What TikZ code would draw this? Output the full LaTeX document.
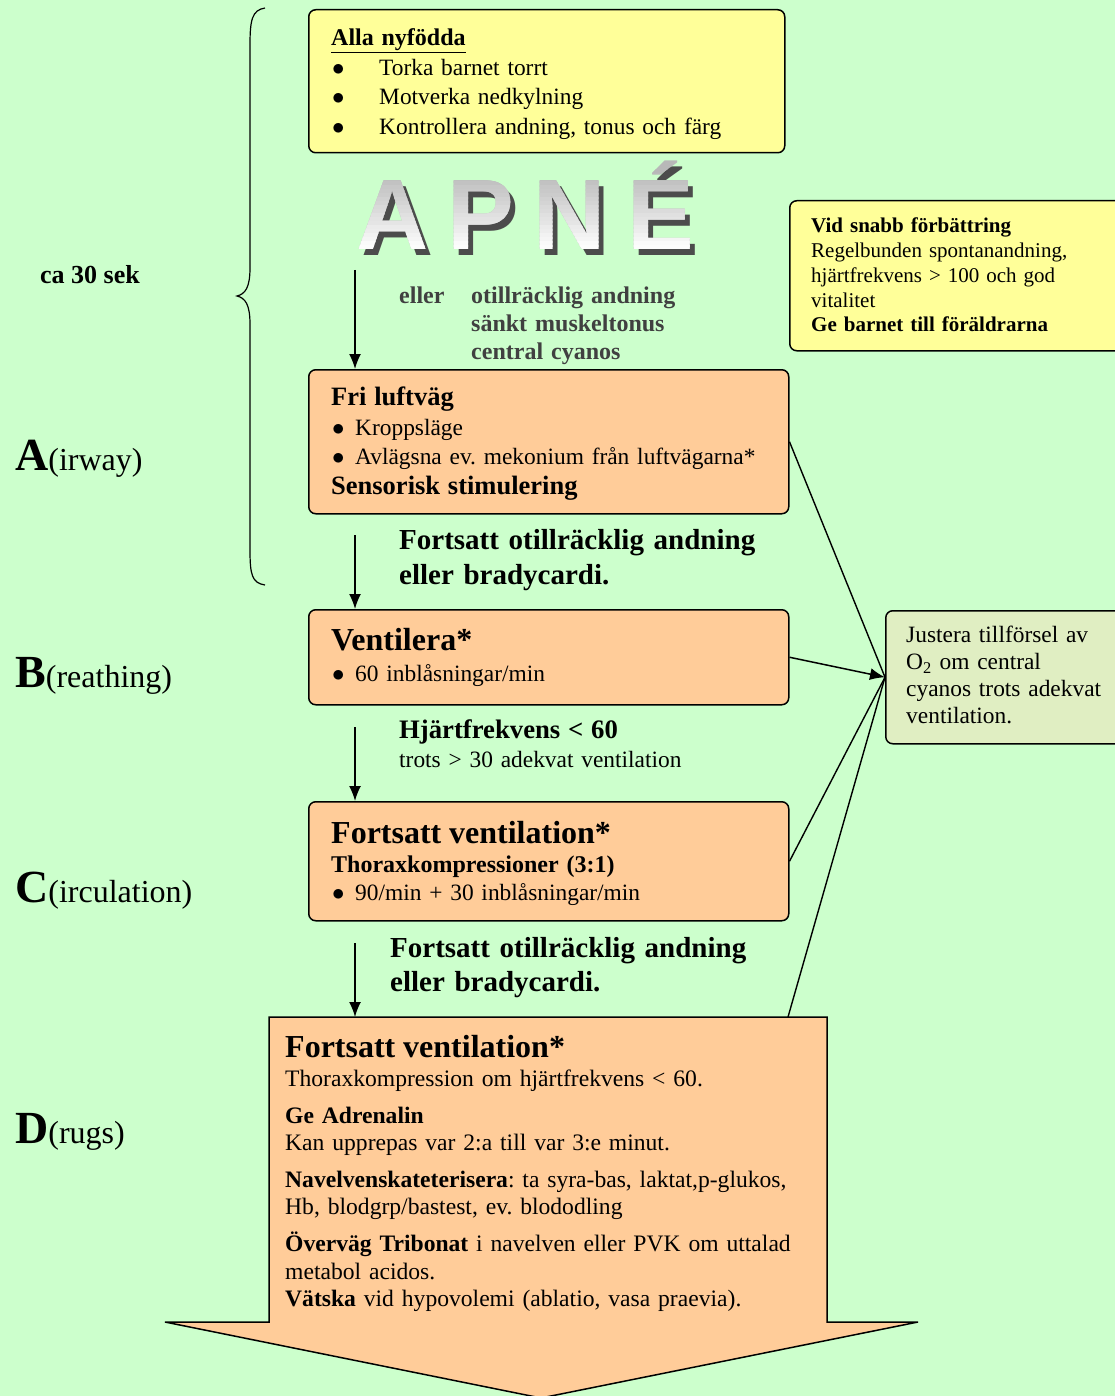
\documentclass[tikz,border=0pt]{standalone}
\usepackage{fontspec}
\setmainfont{Liberation Serif}
\newfontfamily\apnefont{Liberation Sans}
\usetikzlibrary{arrows.meta}
\definecolor{bg}{HTML}{CCFFCC}
\definecolor{boxyellow}{HTML}{FFFF99}
\definecolor{boxorange}{HTML}{FFCC99}
\definecolor{boxgreen}{HTML}{E0EEC2}
\definecolor{darktext}{HTML}{404040}
\newcommand{\fsz}[2]{\fontsize{#1}{#2}\selectfont}
\newcommand{\blt}[1]{\makebox[#1][l]{\kern1pt$\bullet$}}
\frenchspacing
\begin{document}
\begin{tikzpicture}[x=1pt,y=-1pt,
  stepbox/.style={draw, line width=1.5pt, rounded corners=7pt, anchor=north west, inner sep=0pt},
  boxtext/.style={anchor=north west, inner sep=0pt, align=left, text width=560pt},
  flowarrow/.style={line width=1.5pt, -{Latex[length=15pt,width=12pt]}},
  feedline/.style={line width=1.4pt},
  apne/.style={anchor=base, inner sep=0pt, font=\apnefont\bfseries\fsz{100}{100}}]
\useasboundingbox (0,0) rectangle (1115,1396);
\fill[bg] (0,0) rectangle (1115,1396);

% boxes
\node[stepbox, fill=boxyellow, minimum width=476pt, minimum height=143pt] (alla) at (308,9) {};
\node[stepbox, fill=boxyellow, minimum width=340pt, minimum height=150pt] (vid) at (789,200) {};
\node[stepbox, fill=boxorange, minimum width=480pt, minimum height=144pt] (fri) at (308,369) {};
\node[stepbox, fill=boxorange, minimum width=480pt, minimum height=95pt] (vent) at (308,609) {};
\node[stepbox, fill=boxorange, minimum width=480pt, minimum height=119pt] (cbox) at (308,801) {};
\node[stepbox, fill=boxgreen, minimum width=240pt, minimum height=133pt] (just) at (885,610) {};
\draw[line width=1.5pt, fill=boxorange] (269,1017) -- (827,1017) -- (827,1322) -- (918,1322)
  -- (541,1398) -- (165,1322) -- (269,1322) -- cycle;
\coordinate (dtop) at (788,1017);

% texts
\node[boxtext, font={\fsz{23.4}{29.5}}] (allatxt) at (331,28.6)
  {\underline{\fsz{24}{29.5}\textbf{Alla nyfödda}}\\
   \blt{48pt}Torka barnet torrt\\
   \blt{48pt}Motverka nedkylning\\
   \blt{48pt}Kontrollera andning, tonus och färg};
\node[boxtext, font={\fsz{21}{24.8}}] (vidtxt) at (811,217.7)
  {\textbf{Vid snabb förbättring}\\
   Regelbunden spontanandning,\\
   hjärtfrekvens > 100 och god\\
   vitalitet\\
   \textbf{Ge barnet till föräldrarna}};
\node[boxtext, text=darktext, font={\fsz{24}{28}\bfseries}] (eller) at (399,286.7) {eller};
\node[boxtext, text=darktext, font={\fsz{24}{28}\bfseries}] (tecken) at (471,286.7)
  {otillräcklig andning\\ sänkt muskeltonus\\ central cyanos};
\node[boxtext, font={\fsz{23.4}{29.5}}] (fritxt) at (331,387)
  {{\fsz{26.5}{29.5}\bfseries Fri luftväg}\\
   \blt{24pt}Kroppsläge\\
   \blt{24pt}Avlägsna ev. mekonium från luftvägarna*\\
   {\fsz{26.5}{29.5}\bfseries Sensorisk stimulering}};
\node[boxtext, font={\fsz{29}{35}\bfseries}] (fortsatt1) at (399,529.3)
  {Fortsatt otillräcklig andning\\ eller bradycardi.};
\node[boxtext, font={\fsz{23.4}{31}}] (venttxt) at (331,628.2)
  {{\fsz{32}{31}\bfseries Ventilera*}\\
   \blt{24pt}60 inblåsningar/min};
\node[boxtext, font={\fsz{23.4}{29}}] (hjart) at (399,719.8)
  {{\fsz{26.7}{29}\bfseries Hjärtfrekvens < 60}\\ trots > 30 adekvat ventilation};
\node[boxtext, font={\fsz{23.4}{28.5}}] (ctxt) at (331,821.2)
  {{\fsz{32}{28.5}\bfseries Fortsatt ventilation*}\\
   {\fsz{24}{28.5}\bfseries Thoraxkompressioner (3:1)}\\
   \blt{24pt}90/min + 30 inblåsningar/min};
\node[boxtext, font={\fsz{29}{34}\bfseries}] (fortsatt2) at (390,937.3)
  {Fortsatt otillräcklig andning\\ eller bradycardi.};
\node[boxtext, font={\fsz{23.6}{27.3}}] (dtxt) at (285,1035)
  {{\fsz{32}{27.3}\bfseries Fortsatt ventilation*}\\[2pt]
   Thoraxkompression om hjärtfrekvens < 60.\\[9.5pt]
   \textbf{Ge Adrenalin}\\
   Kan upprepas var 2:a till var 3:e minut.\\[9.5pt]
   \textbf{Navelvenskateterisera}: ta syra-bas, laktat,p-glukos,\\
   Hb, blodgrp/bastest, ev. blododling\\[9.5pt]
   \textbf{Överväg Tribonat} i navelven eller PVK om uttalad\\
   metabol acidos.\\
   \textbf{Vätska} vid hypovolemi (ablatio, vasa praevia).};
\node[boxtext, font={\fsz{23.4}{27}}] (justtxt) at (906,625.6)
  {Justera tillförsel av\\ O\textsubscript{2} om central\\ cyanos trots adekvat\\ ventilation.};

% left side
\node[anchor=base west, inner sep=0pt, font={\fsz{26}{26}\bfseries}] (tid) at (40,284) {ca 30 sek};
\node[anchor=base west, inner sep=0pt] (labA) at (15,470) {{\fsz{46}{46}\bfseries A}{\fsz{32}{32}(irway)}};
\node[anchor=base west, inner sep=0pt] (labB) at (15,687) {{\fsz{46}{46}\bfseries B}{\fsz{32}{32}(reathing)}};
\node[anchor=base west, inner sep=0pt] (labC) at (15,902) {{\fsz{46}{46}\bfseries C}{\fsz{32}{32}(irculation)}};
\node[anchor=base west, inner sep=0pt] (labD) at (15,1143) {{\fsz{46}{46}\bfseries D}{\fsz{32}{32}(rugs)}};
\draw[line width=1.2pt] (265,8) .. controls (252,10) and (250,20) .. (250,45) -- (250,268)
  .. controls (250,288) and (245,294) .. (237,296) .. controls (245,298) and (250,304) .. (250,324)
  -- (250,550) .. controls (250,575) and (252,583) .. (265,585);

% APNÉ: dark shadow, then grey-to-white letters in thin bands
\foreach \ch/\x in {A/393,P/481,N/570,É/661}
  \node[apne, text=black!70] (sh\x) at (\x+5,256) {\ch};
\foreach \ch/\x in {A/393,P/481,N/570,É/661}
  \node[apne, text=black!28] (ap\x) at (\x,250) {\ch};
\foreach \i in {0,...,21} {
  \pgfmathtruncatemacro\g{max(0,min(28,28*(252-(172+4*\i))/78))}
  \begin{scope}
    \clip (340,170+4*\i) rectangle (720,174.3+4*\i);
    \foreach \ch/\x in {A/393,P/481,N/570,É/661}
      \node[apne, text=black!\g] (f\i\x) at (\x,250) {\ch};
  \end{scope}
}

% arrows
\coordinate (s1) at (355,270);
\coordinate (s2) at (355,535);
\coordinate (s3) at (355,727);
\coordinate (s4) at (355,943);
\draw[flowarrow] (s1) -- (s1 |- fri.north);
\draw[flowarrow] (s2) -- (s2 |- vent.north);
\draw[flowarrow] (s3) -- (s3 |- cbox.north);
\draw[flowarrow] (s4) -- (s4 |- dtop);
\draw[feedline] (fri.east) -- (just.west);
\draw[feedline] (cbox.east) -- (just.west);
\draw[feedline] (dtop) -- (just.west);
\draw[flowarrow] (vent.east) -- (just.west);
\end{tikzpicture}
\end{document}
